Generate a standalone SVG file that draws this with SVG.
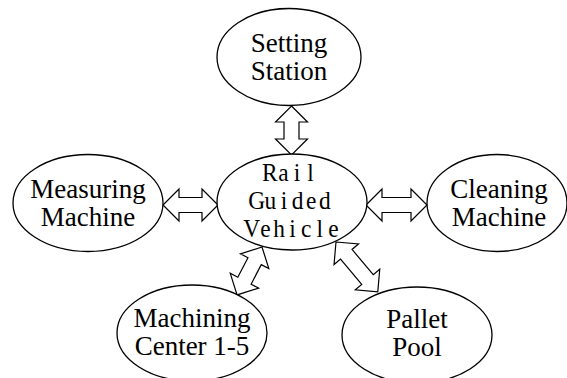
<svg xmlns="http://www.w3.org/2000/svg" width="567" height="378" viewBox="0 0 567 378">
  <style>
    .node ellipse { fill: #ffffff; stroke: #000000; stroke-width: 1.3; }
    .label { font-family: "Liberation Serif", "Times New Roman", serif; font-size: 27px; fill: #000000; text-anchor: middle; }
    .cell { font-family: "Liberation Serif", "Times New Roman", serif; font-size: 26px; fill: #000000; text-anchor: middle; }
    .link { fill: #ffffff; stroke: #000000; stroke-width: 1.2; stroke-linejoin: miter; }
  </style>
  <rect width="567" height="378" fill="#ffffff"/>

  <!-- two-headed hollow arrows: tip at origin, running along +x -->
  <g id="connectors">
    <polygon class="link" transform="translate(291.5,106) rotate(90)" points="0,0 16,-16 16,-7.5 33,-7.5 33,-16 49,0 33,16 33,7.5 16,7.5 16,16"/>
    <polygon class="link" transform="translate(163,205)" points="0,0 16,-16 16,-7.5 39,-7.5 39,-16 55,0 39,16 39,7.5 16,7.5 16,16"/>
    <polygon class="link" transform="translate(366,205)" points="0,0 16,-16 16,-7.5 45,-7.5 45,-16 61,0 45,16 45,7.5 16,7.5 16,16"/>
    <polygon class="link" transform="translate(262,247) rotate(117.5)" points="0,0 16,-16 16,-7.5 38,-7.5 38,-16 54,0 38,16 38,7.5 16,7.5 16,16"/>
    <polygon class="link" transform="translate(336,242) rotate(50)" points="0,0 16,-16 16,-7.5 49,-7.5 49,-16 65,0 49,16 49,7.5 16,7.5 16,16"/>
  </g>

  <g id="setting-station" class="node">
    <ellipse cx="289" cy="57" rx="72" ry="48.5"/>
    <text class="label" x="289" y="52">Setting</text>
    <text class="label" x="289" y="80">Station</text>
  </g>

  <g id="rail-guided-vehicle" class="node">
    <ellipse cx="292" cy="202" rx="75" ry="48"/>
    <!-- fixed-pitch lettering: one centred cell per character, narrowed about x=292 -->
    <g transform="matrix(0.9 0 0 1 29.2 0)">
      <text class="cell" x="267.33 282.44 297.56 312.67" y="181">Rail</text>
      <text class="cell" x="252.89 268 283.11 298.22 313.33 328.44" y="209">Guided</text>
      <text class="cell" x="247.33 262.44 277.56 292.67 307.78 322.89 338" y="237">Vehicle</text>
    </g>
  </g>

  <g id="measuring-machine" class="node">
    <ellipse cx="88" cy="203" rx="75" ry="48.5"/>
    <text class="label" x="88" y="198">Measuring</text>
    <text class="label" x="88" y="226">Machine</text>
  </g>

  <g id="cleaning-machine" class="node">
    <ellipse cx="497" cy="203" rx="70" ry="48.5"/>
    <text class="label" x="499" y="198">Cleaning</text>
    <text class="label" x="499" y="226">Machine</text>
  </g>

  <g id="machining-center" class="node">
    <ellipse cx="192" cy="333" rx="75" ry="48"/>
    <text class="label" x="192" y="327">Machining</text>
    <text class="label" x="192" y="355">Center 1-5</text>
  </g>

  <g id="pallet-pool" class="node">
    <ellipse cx="417" cy="335" rx="75" ry="48"/>
    <text class="label" x="417" y="328">Pallet</text>
    <text class="label" x="417" y="356">Pool</text>
  </g>
</svg>
